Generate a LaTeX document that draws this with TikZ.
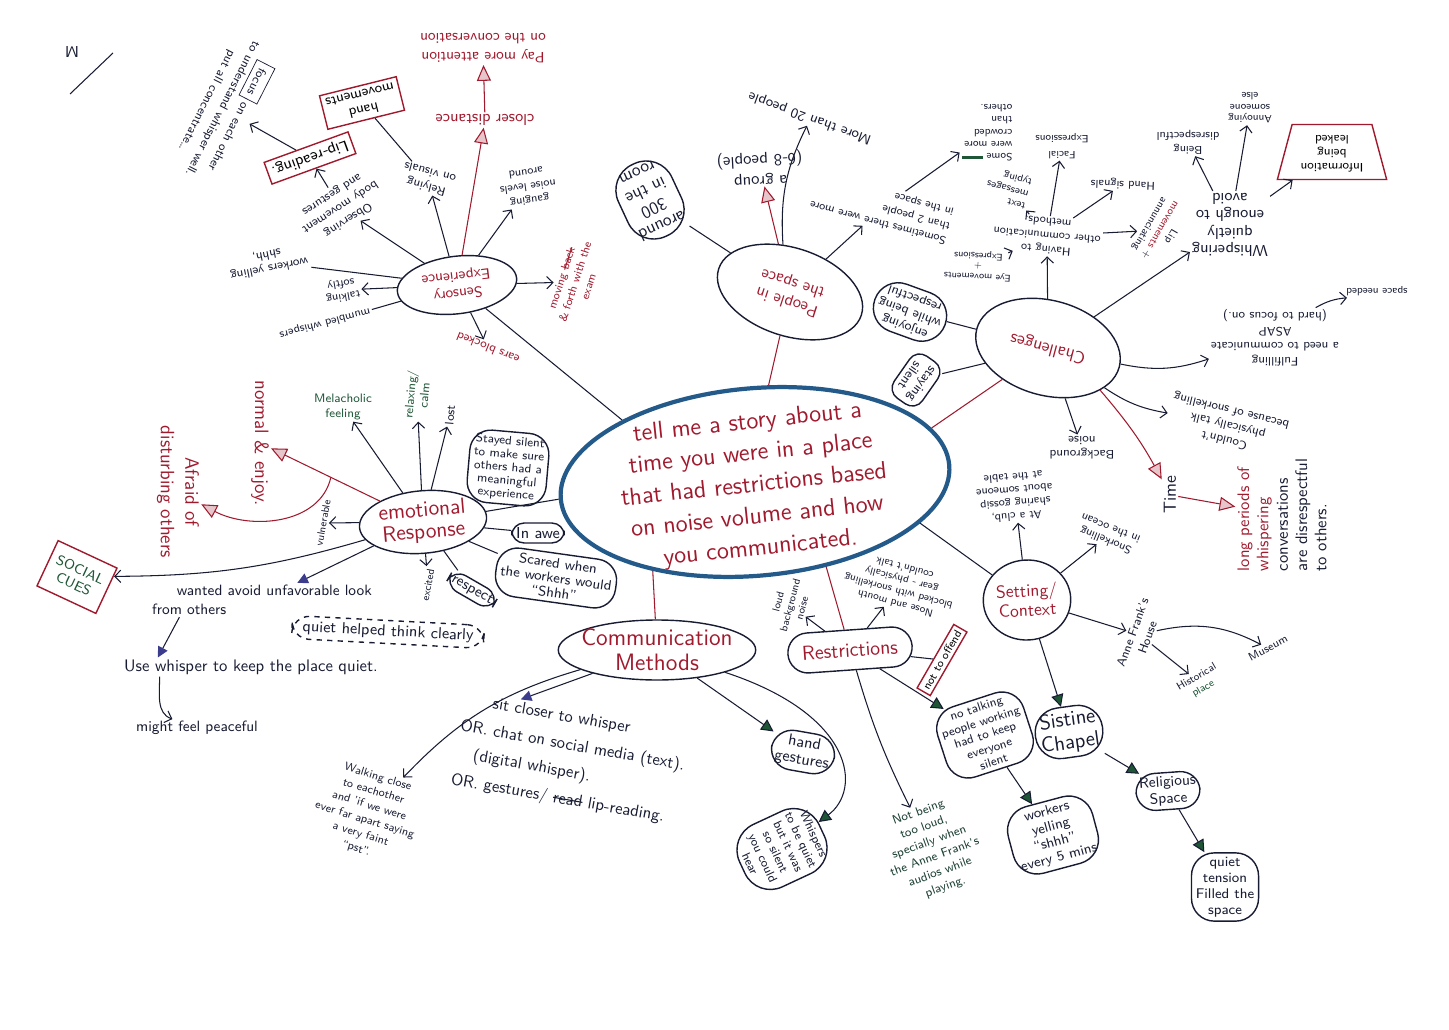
\documentclass[tikz,border=0pt]{standalone}
\usepackage{amsmath}
\usepackage{tikz}
\usepackage{xcolor}
\usepackage{graphicx}
\usetikzlibrary{arrows.meta,shapes.geometric,shapes.misc}
\renewcommand{\familydefault}{\sfdefault}

\definecolor{inkred}{RGB}{160,26,46}
\definecolor{inkblue}{RGB}{36,90,138}
\definecolor{inknavy}{RGB}{24,28,50}
\definecolor{inkgreen}{RGB}{30,86,54}
\definecolor{inkviolet}{RGB}{60,60,140}
\newcommand{\fsz}[2]{\fontsize{#1}{#2}\selectfont}
\newcommand{\crossout}[1]{\setbox0\hbox{#1}\rlap{\rule[0.6ex]{\wd0}{0.6pt}}#1}

\tikzset{
  hub/.style={ellipse, draw=inkblue, line width=2.4pt},
  hubtext/.style={align=center, text=inkred, font=\fsz{14}{18}},
  topic/.style={ellipse, draw=inknavy, thick, text=inkred, align=center, inner sep=-2pt},
  bubble/.style={draw=inknavy, thick, rounded corners=8pt, align=center, inner sep=2.5pt, text=inknavy},
  redbox/.style={draw=inkred, thick, align=center, inner sep=2.5pt},
  note/.style={align=center, inner sep=1pt, text=inknavy},
  rednote/.style={note, text=inkred},
  arr/.style={draw=inknavy, semithick, -{Straight Barb[length=3.5pt,width=7pt]}},
  redarr/.style={draw=inkred, semithick, -{Triangle[length=9pt,width=8pt,color=inkred,fill=inkred!25]}},
  greenarr/.style={draw=inknavy, semithick, -{Triangle[length=7pt,width=7pt,color=inknavy,fill=inkgreen]}},
  bluearr/.style={draw=inknavy, semithick, -{Triangle[length=6pt,width=6pt,color=inkviolet,fill=inkviolet]}},
  branch/.style={draw=inknavy, semithick},
  redbranch/.style={draw=inkred, semithick},
}

\begin{document}
\begin{tikzpicture}[x=0.02cm,y=-0.02cm]
  \useasboundingbox (0,0) rectangle (1449,1030);

  % the question in the middle
  \node[hub, minimum width=7.8cm, minimum height=3.75cm, rotate=5] (story) at (755,482) {};
  \node[hubtext, rotate=6] (storytext) at (754,486) {tell me a story about a\\time you were in a place\\that had restrictions based\\on noise volume and how\\you communicated.};

  % main topics
  \node[topic, minimum width=2.4cm, minimum height=1.15cm, rotate=187, font=\fsz{8.5}{10}] (sensory) at (457,285) {Sensory\\Experience};
  \node[topic, minimum width=3.0cm, minimum height=1.76cm, rotate=162, font=\fsz{9.5}{11}] (people) at (790,292) {People in\\the space};
  \node[topic, minimum width=2.95cm, minimum height=1.9cm, rotate=165, font=\fsz{10}{12}] (chall) at (1048,348) {Challenges};
  \node[topic, minimum width=1.75cm, minimum height=1.6cm, rotate=3, font=\fsz{10}{11}] (setting) at (1027,600) {Setting/\\Context};
  \node[rounded rectangle, draw=inknavy, thick, text=inkred, inner sep=3pt, minimum width=2.7cm, minimum height=0.8cm, rotate=4, font=\fsz{11.5}{12}] (restr) at (850,650) {Restrictions};
  \node[topic, minimum width=3.95cm, minimum height=1.2cm, inner xsep=-9pt, font=\fsz{13.5}{14}] (comm) at (657,650) {Communication\\Methods};
  \node[topic, minimum width=2.55cm, minimum height=1.25cm, inner xsep=-6pt, rotate=5, font=\fsz{12.5}{12.5}] (emotional) at (423,522) {emotional\\Response};

  \draw[branch] (story.150) -- (sensory);
  \draw[redbranch] (story.77) -- (people);
  \draw[redbranch] (story.12) -- (chall);
  \draw[branch] (story.341) -- (setting);
  \draw[redbranch] (story.305) -- (restr);
  \draw[redbranch] (story.216) -- (comm);
  \draw[branch] (story.180) -- (emotional);

  % sensory experience
  \node[note, rotate=213, font=\fsz{7}{8.5}] (observe) at (340,207) {Observing\\body movement\\and gestures};
  \node[note, rotate=165, font=\fsz{7}{8.5}] (visuals) at (428,180) {Relying\\on visuals};
  \node[rednote, rotate=180, font=\fsz{9}{10}] (closer) at (485,120) {closer distance};
  \node[rednote, rotate=180, font=\fsz{8.5}{11}] (attention) at (483,48) {Pay more attention\\on the conversation};
  \node[note, rotate=188, font=\fsz{6.5}{8}] (gauging) at (528,187) {gauging\\noise levels\\around};
  \node[rednote, rotate=72, font=\fsz{6.5}{8}] (moving) at (575,282) {moving \crossout{back}\\\& forth with the\\exam};
  \node[rednote, rotate=158, font=\fsz{7}{8}] (ears) at (488,348) {ears blocked};
  \node[note, rotate=191, font=\fsz{7}{8}] (yelling) at (268,262) {workers yelling\\shhh,};
  \node[note, rotate=190, font=\fsz{6.5}{7.5}] (softly) at (342,290) {talking\\softly};
  \node[note, rotate=195, font=\fsz{6.5}{7.5}] (mumbled) at (325,323) {mumbled whispers};
  \node[redbox, rotate=200, font=\fsz{9}{10}] (lipread) at (310,158) {Lip-reading.};
  \node[redbox, rotate=194, font=\fsz{8}{9}] (handmov) at (362,103) {hand\\movements};
  \node[note, rotate=243, font=\fsz{7}{10}] (focus) at (225,110) {\fbox{focus} on each other\\to understand whisper well.\\put all concentrate\dots};

  \draw[arr] (sensory) -- (observe);
  \draw[arr] (sensory) -- (visuals);
  \draw[redarr] (sensory) -- (closer);
  \draw[redarr] (closer) -- (attention);
  \draw[arr] (sensory) -- (gauging);
  \draw[arr] (sensory) -- (moving);
  \draw[arr] (sensory) -- (ears);
  \draw[branch] (sensory) -- (yelling);
  \draw[arr] (sensory) -- (softly);
  \draw[branch] (sensory) -- (mumbled);
  \draw[arr] (observe) -- (lipread);
  \draw[branch] (visuals) -- (handmov);
  \draw[arr] (lipread) -- (focus);

  % people in the space
  \node[bubble, rotate=205, rounded corners=16pt, font=\fsz{10}{11}] (room) at (650,200) {around\\300\\in the\\room};
  \node[note, rotate=183, font=\fsz{9.5}{12}] (group) at (760,168) {a group\\(6-8 people)};
  \node[note, rotate=160, font=\fsz{8}{9}] (more20) at (810,118) {More than 20 people};
  \node[note, rotate=165, align=left, font=\fsz{6.5}{8.5}] (sometimes) at (882,208) {Sometimes there were more\\than 2 people\\in the space};

  \draw[branch] (people) -- (room);
  \draw[redarr] (people) -- (group);
  \draw[arr] (people) to[bend left=15] (more20);
  \draw[arr] (people) -- (sometimes);

  % challenges
  \node[bubble, rotate=160, rounded corners=14pt, font=\fsz{7.5}{8.5}] (enjoy) at (910,312) {enjoying\\while being\\respectful};
  \node[bubble, rotate=235, rounded corners=7pt, inner sep=3pt, font=\fsz{7.5}{8.5}] (staying) at (916,380) {staying\\silent};
  \node[note, rotate=175, font=\fsz{6.5}{8}] (having) at (1047,236) {Having to\\other communication\\methods.};
  \node[note, rotate=177, font=\fsz{5.5}{6}] (eyes) at (978,266) {Eye movements\\+\\Expressions};
  \node[note, rotate=165, align=left, font=\fsz{6}{7}] (textmsg) at (1008,188) {text\\messages\\typing};
  \node[note, rotate=180, font=\fsz{6}{9}] (facial) at (1062,146) {Facial\\Expressions};
  \node[note, rotate=180, align=left, font=\fsz{6}{7}] (crowded) at (987,133) {Some {\color{inkgreen}\rule[1pt]{12pt}{2pt}}\\were more\\crowded\\than\\others.};
  \node[note, rotate=178, font=\fsz{6.5}{7}] (handsig) at (1123,184) {Hand signals};
  \node[note, rotate=240, font=\fsz{6}{7}] (lipmov) at (1160,230) {Lip\\{\color{inkred}movements} +\\annunciating};
  \node[note, rotate=180, font=\fsz{9}{10}] (whisperq) at (1230,225) {Whispering\\quietly\\enough to\\avoid};
  \node[note, rotate=180, font=\fsz{6.5}{8}] (disresp) at (1188,142) {Being\\disrespectful};
  \node[note, rotate=180, font=\fsz{6}{6.5}] (annoy) at (1250,108) {Annoying\\someone\\else};
  \node[trapezium, draw=inkred, thick, trapezium left angle=75, trapezium right angle=75, align=center, font=\fsz{7}{8}, inner sep=1pt, minimum width=1.7cm, minimum height=1.1cm] (leaked) at (1332,152) {\rotatebox{180}{\begin{tabular}{@{}c@{}}Information\\being\\leaked\end{tabular}}};
  \node[note, rotate=180, font=\fsz{7}{8.5}] (fulfil) at (1275,338) {Fulfilling\\a need to communicate\\ASAP\\(hard to focus on.)};
  \node[note, rotate=180, font=\fsz{6}{7}] (space) at (1377,291) {space needed};
  \node[note, rotate=166, font=\fsz{7}{8.5}] (couldnt) at (1228,425) {Couldn't\\physically talk\\because of snorkelling};
  \node[note, rotate=180, font=\fsz{7}{8}] (backg) at (1082,448) {Background\\noise};
  \node[note, rotate=90, font=\fsz{10}{11}] (time) at (1170,495) {Time};
  \node[note, rotate=90, align=left, font=\fsz{9.5}{11}] (longp) at (1282,515) {{\color{inkred}long periods of}\\{\color{inkred}whispering}\\conversations\\are disrespectful\\to others.};

  \draw[branch] (chall) -- (enjoy);
  \draw[branch] (chall) -- (staying);
  \draw[arr] (chall) -- (having);
  \draw[arr] (having) -- (eyes);
  \draw[arr] (having) -- (textmsg);
  \draw[arr] (having) -- (facial);
  \draw[arr] (having) -- (handsig);
  \draw[arr] (having) -- (lipmov);
  \draw[arr] (sometimes) -- (crowded);
  \draw[arr] (chall) -- (whisperq);
  \draw[arr] (whisperq) -- (disresp);
  \draw[arr] (whisperq) -- (annoy);
  \draw[arr] (whisperq) -- (leaked);
  \draw[arr] (chall) to[bend right=15] (fulfil);
  \draw[arr] (fulfil) to[bend left=12] (space);
  \draw[arr] (chall) to[bend right=12] (couldnt);
  \draw[arr] (chall) -- (backg);
  \draw[redarr] (chall.156) to[bend left=6] (time);
  \draw[redarr] (time) -- (longp);

  % setting / context
  \node[note, rotate=185, font=\fsz{6.5}{7.5}] (club) at (1015,497) {At a club,\\sharing gossip\\about someone\\at the table};
  \node[note, rotate=158, font=\fsz{6.5}{7.5}] (snork) at (1108,535) {Snorkelling\\in the ocean};
  \node[note, rotate=70, font=\fsz{7}{9}] (anne) at (1140,635) {Anne Frank's\\House};
  \node[note, rotate=28, font=\fsz{6.5}{7}] (museum) at (1268,648) {Museum};
  \node[note, rotate=30, font=\fsz{6}{7.5}] (hist) at (1200,683) {Historical\\{\color{inkgreen}place}};
  \node[bubble, rotate=8, rounded corners=14pt, font=\fsz{12}{13}] (sistine) at (1069,732) {Sistine\\Chapel};
  \node[bubble, rotate=4, rounded corners=11pt, font=\fsz{8.5}{9.5}, inner sep=2pt] (relig) at (1168,791) {Religious\\Space};
  \node[bubble, rounded corners=13pt, font=\fsz{8}{9}] (tension) at (1225,887) {quiet\\tension\\Filled the\\space};

  \draw[arr] (setting) -- (club);
  \draw[arr] (setting) -- (snork);
  \draw[arr] (setting) -- (anne);
  \draw[arr] (anne) to[bend left=20] (museum);
  \draw[arr] (anne) -- (hist);
  \draw[greenarr] (setting) -- (sistine);
  \draw[greenarr] (sistine) -- (relig);
  \draw[greenarr] (relig) -- (tension);

  % restrictions
  \node[note, rotate=75, font=\fsz{6}{7}] (loud) at (790,605) {loud\\background\\noise};
  \node[note, rotate=165, font=\fsz{6}{7}] (nose) at (900,586) {Nose and mouth\\blocked with snorkelling\\gear - physically\\couldn't talk};
  \node[redbox, rotate=60, font=\fsz{6.5}{7}, inner sep=2pt] (offend) at (942,660) {not to offend};
  \node[bubble, rotate=18, rounded corners=13pt, font=\fsz{7}{8}] (notalk) at (985,735) {no talking\\people working\\had to keep\\everyone\\silent};
  \node[note, rotate=20, font=\fsz{7}{9}, text=inkgreen!60!inknavy] (notloud) at (932,850) {Not being\\too loud,\\specially when\\the Anne Frank's\\audios while\\playing.};
  \node[bubble, rotate=15, rounded corners=14pt, font=\fsz{8}{9}] (workers) at (1053,835) {workers\\yelling\\“shhh”\\every 5 mins};

  \draw[arr] (restr) -- (loud);
  \draw[arr] (restr) -- (nose);
  \draw[branch] (restr) -- (offend);
  \draw[greenarr] (restr) -- (notalk);
  \draw[arr] (restr) to[bend right=5] (notloud);
  \draw[greenarr] (notalk) -- (workers);

  % communication methods
  \node[note, rotate=-10, align=left, font=\fsz{9.5}{15.5}] (sit) at (570,760) {\hspace*{16pt}sit closer to whisper\\OR. chat on social media (text).\\\hspace*{10pt}(digital whisper).\\OR. gestures/ \crossout{read} lip-reading.};
  \node[note, rotate=-17, font=\fsz{6.5}{8.5}] (walk) at (367,813) {Walking close\\to eachother\\and 'if we were\\ever far apart saying\\a very faint\\“pst”.};
  \node[bubble, rotate=-10, rounded corners=12pt, font=\fsz{9}{9.5}] (gest) at (803,752) {hand\\gestures};
  \node[bubble, rotate=-65, rounded corners=16pt, font=\fsz{7}{8}] (whispq) at (782,849) {Whispers\\to be quiet\\but it was\\so silent\\you could\\hear};

  \draw[bluearr] (comm) -- ([xshift=-33pt,yshift=6pt]sit.north);
  \draw[arr] (comm) to[bend right=15] (walk);
  \draw[greenarr] (comm) -- (gest);
  \draw[greenarr] (comm) .. controls (855,715) and (862,790) .. (whispq);

  % emotional response
  \node[note, text=inkgreen, font=\fsz{7}{8}] (melanch) at (343,407) {Melacholic\\feeling};
  \node[note, text=inkgreen, rotate=85, font=\fsz{7}{8}] (relax) at (417,395) {relaxing/\\calm};
  \node[note, rotate=85, font=\fsz{7}{8}] (lost) at (450,415) {lost};
  \node[rednote, rotate=-90, font=\fsz{11}{12}] (normal) at (260,443) {normal \& enjoy.};
  \node[rednote, rotate=-90, font=\fsz{11}{14}] (afraid) at (178,492) {Afraid of\\disturbing others};
  \node[note, rotate=80, font=\fsz{6}{7}] (vulner) at (323,523) {vulnerable};
  \node[redbox, rotate=-25, text=inkgreen, font=\fsz{8}{9}, minimum width=1.3cm, minimum height=1.0cm] (social) at (77,577) {SOCIAL\\CUES};
  \node[note, rotate=80, font=\fsz{6}{7}] (excited) at (428,585) {excited};
  \node[bubble, dashed, rotate=-3, rounded corners=10pt, inner xsep=6pt, font=\fsz{9}{10}] (quietb) at (388,632) {quiet helped think clearly};
  \node[bubble, rotate=-5, rounded corners=12pt, font=\fsz{7}{7.5}] (stayed) at (508,468) {Stayed silent\\to make sure\\others had a\\meaningful\\experience};
  \node[bubble, rounded corners=7pt, font=\fsz{9}{10}, inner sep=2.5pt] (awe) at (538,533) {In awe};
  \node[bubble, rotate=-8, rounded corners=12pt, font=\fsz{8}{8.5}] (scared) at (556,578) {Scared when\\the workers would\\“Shhh”};
  \node[bubble, rotate=-30, rounded corners=8pt, font=\fsz{8.5}{10}, inner sep=2pt] (respect) at (472,590) {respect};
  \node[note, align=left, font=\fsz{8.5}{11}] (avoid) at (262,600) {\hspace*{14pt}wanted avoid unfavorable look\\from others};
  \node[note, font=\fsz{9.5}{10}] (whisper) at (251,667) {Use whisper to keep the place quiet.};
  \node[note, font=\fsz{8.5}{10}] (peace) at (197,728) {might feel peaceful};

  \draw[arr] (emotional) -- (melanch);
  \draw[arr] (emotional) -- (relax);
  \draw[arr] (emotional) -- (lost);
  \draw[arr] (emotional) -- (vulner);
  \draw[arr] (emotional) -- (excited);
  \draw[branch] (emotional) -- (stayed);
  \draw[branch] (emotional) -- (awe);
  \draw[branch] (emotional) -- (scared);
  \draw[branch] (emotional) -- (respect);
  \draw[redarr] (emotional) -- (normal) coordinate[pos=0.45] (fork);
  \draw[redarr] (fork) .. controls (320,525) and (250,530) .. (afraid);
  \draw[arr] (emotional) to[bend left=8] (social);
  \draw[bluearr] (emotional) -- (avoid);
  \draw[bluearr] ([xshift=-47pt]avoid.south) -- ([xshift=-53pt]whisper.north);
  \draw[arr] ([xshift=-52pt]whisper.south) to[out=270,in=160] ([xshift=-14pt]peace.north);

  % corner mark
  \node[note, rotate=180, font=\fsz{9}{9}] (mark) at (72,52) {M};
  \draw[inknavy, semithick] (70,94) -- (113,53);
\end{tikzpicture}
\end{document}
